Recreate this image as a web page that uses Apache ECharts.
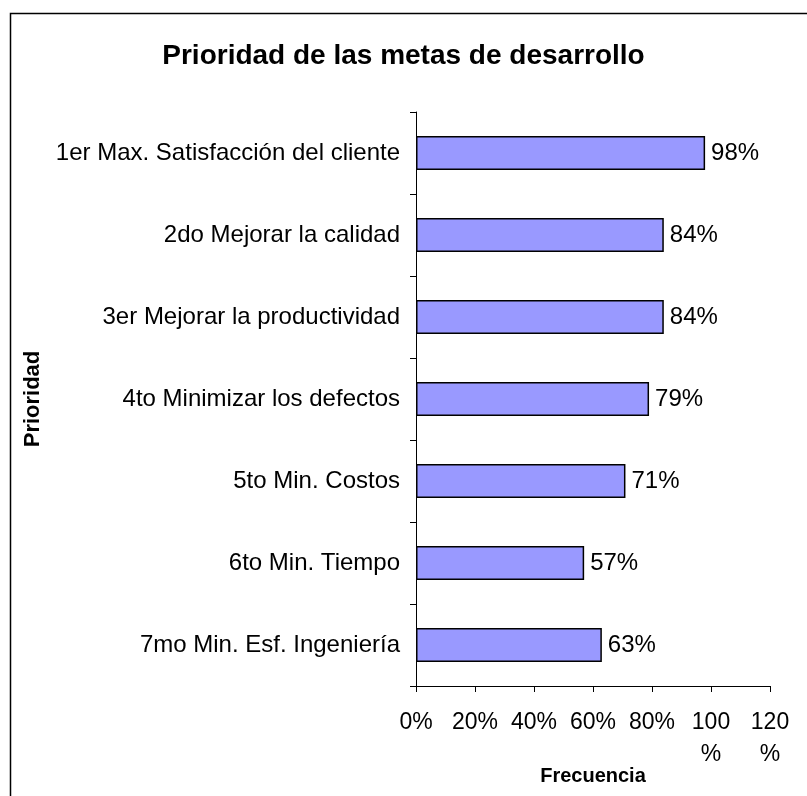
<!DOCTYPE html>
<html>
<head>
<meta charset="utf-8">
<script src="https://cdn.jsdelivr.net/npm/echarts@6/dist/echarts.min.js"></script>
<style>
  html, body { margin: 0; padding: 0; background: #fff; }
  #chart { width: 807px; height: 796px; }
</style>
</head>
<body>
<div id="chart"></div>
<script>
const categories = [
  "1er Max. Satisfacción del cliente",
  "2do Mejorar la calidad",
  "3er Mejorar la productividad",
  "4to Minimizar los defectos",
  "5to Min. Costos",
  "6to Min. Tiempo",
  "7mo Min. Esf. Ingeniería",
];
const frecuencia = [98, 84, 84, 79, 71, 57, 63];
const xTicks = [0, 20, 40, 60, 80, 100, 120];

const font = "Liberation Sans, Arial, sans-serif";
const chart = echarts.init(document.getElementById("chart"));

const option = {
  animation: false,
  backgroundColor: "#fff",
  title: {
    text: "Prioridad de las metas de desarrollo",
    left: "center",
    top: 37,
    textStyle: { fontFamily: font, fontSize: 28, fontWeight: "bold", color: "#000" },
  },
  graphic: [
    {
      type: "rect",
      left: 8,
      top: 11,
      shape: { width: 900, height: 900 },
      style: { fill: "none", stroke: "#000", lineWidth: 1.5 },
      silent: true,
    },
  ],
  grid: { left: 416, right: 37, top: 112, bottom: 110, outerBoundsMode: "none", containLabel: false },
  xAxis: {
    type: "value",
    min: xTicks[0],
    max: xTicks[xTicks.length - 1],
    interval: 20,
    splitLine: { show: false },
    axisLine: { show: true, lineStyle: { color: "#000", width: 1 } },
    axisTick: { show: true, length: 6, lineStyle: { color: "#000" } },
    axisLabel: {
      fontFamily: font,
      fontSize: 23,
      color: "#000",
      margin: 21,
      lineHeight: 32,
      formatter: (v) => (v >= 100 ? v + "\n%" : v + "%"),
    },
    name: "Frecuencia",
    nameLocation: "middle",
    nameGap: 80,
    nameMoveOverlap: false,
    nameTextStyle: { fontFamily: font, fontSize: 20, fontWeight: "bold", color: "#000" },
  },
  yAxis: {
    type: "category",
    inverse: true,
    data: categories,
    axisLine: { show: true, lineStyle: { color: "#000", width: 1 } },
    axisTick: { show: true, length: 6, lineStyle: { color: "#000" } },
    axisLabel: { fontFamily: font, fontSize: 24, color: "#000", margin: 16 },
    name: "Prioridad",
    nameLocation: "middle",
    nameRotate: 90,
    nameGap: 372,
    nameMoveOverlap: false,
    nameTextStyle: { fontFamily: font, fontSize: 22, fontWeight: "bold", color: "#000" },
  },
  series: [
    {
      type: "bar",
      data: frecuencia,
      barWidth: 34,
      itemStyle: { color: "#9999FF", borderColor: "#000", borderWidth: 1.5 },
      label: {
        show: true,
        position: "right",
        distance: 6,
        formatter: "{c}%",
        fontFamily: font,
        fontSize: 24,
        color: "#000",
      },
    },
  ],
};
chart.setOption(option);
</script>
</body>
</html>
